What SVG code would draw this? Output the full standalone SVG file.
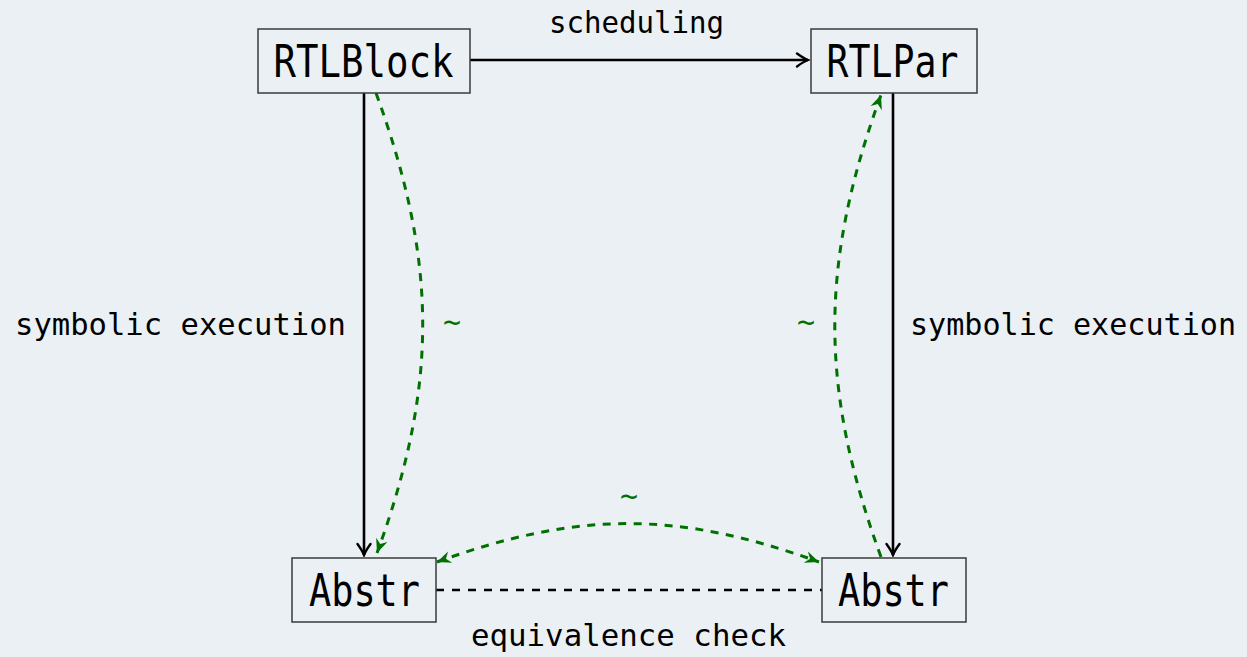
<svg xmlns="http://www.w3.org/2000/svg" width="1247" height="657" viewBox="0 0 1247 657">
<defs>
<style>
.bg{fill:#ebf0f5}
.box{fill:#ebf0f5;stroke:#3a3a3a;stroke-width:1.5}
.nt{font-family:"DejaVu Sans Mono","Liberation Mono",monospace;font-size:44px;fill:#000;text-anchor:middle}
.lb{font-family:"DejaVu Sans Mono","Liberation Mono",monospace;font-size:30.5px;fill:#000}
.tl{font-family:"DejaVu Sans Mono","Liberation Mono",monospace;font-size:30px;fill:#007000;text-anchor:middle}
.arr{fill:none;stroke:#000;stroke-width:2.6}
.dsh{fill:none;stroke:#000;stroke-width:2.4;stroke-dasharray:8 8}
.g{fill:none;stroke:#007000;stroke-width:3;stroke-dasharray:8 7.5}
</style>
<marker id="to" markerUnits="userSpaceOnUse" viewBox="-13 -8 15 16" markerWidth="15" markerHeight="16" refX="0" refY="0" orient="auto">
<path d="M-11,-6.5 Q-4,-1.5 0,0 Q-4,1.5 -11,6.5" fill="none" stroke="#000" stroke-width="2.4" stroke-linecap="round"/>
</marker>
<marker id="st" markerUnits="userSpaceOnUse" viewBox="-15 -8 17 16" markerWidth="17" markerHeight="16" refX="0" refY="0" orient="auto-start-reverse">
<path d="M0,0 L-14,-6 L-9.5,0 L-14,6 Z" fill="#007000"/>
</marker>
</defs>
<rect class="bg" x="0" y="0" width="1247" height="657"/>

<g id="connectors">
<path class="arr" d="M470,60 L808,60" marker-end="url(#to)"/>
<path class="arr" d="M364,93 L364,555" marker-end="url(#to)"/>
<path class="arr" d="M893,93 L893,555" marker-end="url(#to)"/>
<path class="dsh" d="M436,590 L822,590"/>
<path class="g" d="M376,93 C437.6,262 438.6,384 377,553" marker-end="url(#st)"/>
<path class="g" d="M881,557 C819.4,388 819.4,264 881,95" marker-end="url(#st)"/>
<path class="g" d="M437,562 C577.6,510.8 678.4,510.8 819,562" marker-start="url(#st)" marker-end="url(#st)"/>
<text class="lb" x="15" y="335" textLength="331" lengthAdjust="spacingAndGlyphs">symbolic execution</text>
<text class="lb" x="910" y="335" textLength="326" lengthAdjust="spacingAndGlyphs">symbolic execution</text>
<text class="lb" x="549" y="33" textLength="175" lengthAdjust="spacingAndGlyphs">scheduling</text>
<text class="lb" x="471" y="646" textLength="315" lengthAdjust="spacingAndGlyphs">equivalence check</text>
<text class="tl" x="452" y="332">~</text>
<text class="tl" x="806" y="332">~</text>
<text class="tl" x="629" y="506">~</text>
</g>

<g id="rtlblock">
<rect class="box" x="258" y="29" width="212" height="64"/>
<text class="nt" x="363.5" y="77" textLength="180" lengthAdjust="spacingAndGlyphs">RTLBlock</text>
</g>
<g id="rtlpar">
<rect class="box" x="811" y="29" width="166" height="64"/>
<text class="nt" x="892.5" y="77" textLength="132" lengthAdjust="spacingAndGlyphs">RTLPar</text>
</g>
<g id="abstr-left">
<rect class="box" x="292" y="558" width="144" height="64"/>
<text class="nt" x="364.5" y="606" textLength="111" lengthAdjust="spacingAndGlyphs">Abstr</text>
</g>
<g id="abstr-right">
<rect class="box" x="822" y="558" width="144" height="64"/>
<text class="nt" x="893.5" y="606" textLength="111" lengthAdjust="spacingAndGlyphs">Abstr</text>
</g>
</svg>
